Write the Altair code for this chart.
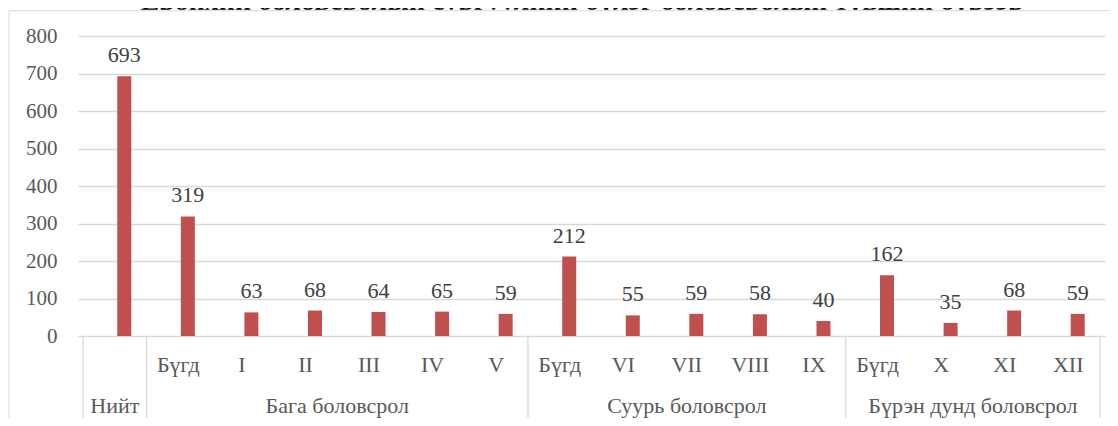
import altair as alt
import pandas as pd

title_text = "Ерөнхий боловсролын сургуулийн бүлэг боловсролын түвшин бүрээр"
sub_labels = ["", "Бүгд", "I", "II", "III", "IV", "V",
              "Бүгд", "VI", "VII", "VIII", "IX",
              "Бүгд", "X", "XI", "XII"]
values = [693, 319, 63, 68, 64, 65, 59, 212, 55, 59, 58, 40, 162, 35, 68, 59]
group_names = ["Нийт", "Бага боловсрол", "Суурь боловсрол", "Бүрэн дунд боловсрол"]
group_sizes = [1, 6, 5, 4]
y_ticks = [0, 100, 200, 300, 400, 500, 600, 700, 800]

n = len(values)
bars = pd.DataFrame({
    "pos": [i + 0.5 for i in range(n)],
    "value": values,
    "sub": sub_labels,
})

starts = []
s = 0
for g in group_sizes:
    starts.append(s)
    s += g
groups = pd.DataFrame({
    "name": group_names,
    "center": [st + g / 2 for st, g in zip(starts, group_sizes)],
})
seps = pd.DataFrame({"b": starts + [n]})

FONT = "Liberation Serif"
W, H = 1027, 300
xscale = alt.Scale(domain=[0, n], nice=False, zero=False)
yscale = alt.Scale(domain=[0, 800], nice=False)
yaxis = alt.Axis(values=y_ticks, tickCount=9, title=None, ticks=False, domain=False,
                 grid=True, gridColor="#d9d9d9", gridWidth=1.3,
                 labelOverlap=False,
                 labelFont=FONT, labelFontSize=21, labelColor="#595959",
                 labelPadding=21)
one = pd.DataFrame({"a": [0]})

ttl = alt.Chart(pd.DataFrame({"t": [title_text]})).mark_text(
    font=FONT, fontSize=28, fontWeight="bold", color="#000000",
    baseline="alphabetic"
).encode(
    x=alt.value(504), y=alt.value(-26.5), text="t:N"
)

cover = alt.Chart(one).mark_rect(fill="white", stroke=None).encode(
    x=alt.value(-80), x2=alt.value(1060), y=alt.value(-26.2), y2=alt.value(-9)
)

border = alt.Chart(one).mark_rect(
    filled=False, stroke="#d9d9d9", strokeWidth=1
).encode(
    x=alt.value(-69), x2=alt.value(1045), y=alt.value(-25.3), y2=alt.value(389)
)

bar = alt.Chart(bars).mark_bar(color="#C0504D", size=14, xOffset=9.5).encode(
    x=alt.X("pos:Q", scale=xscale, axis=None),
    y=alt.Y("value:Q", scale=yscale, axis=yaxis),
)

lbl = alt.Chart(bars).mark_text(
    font=FONT, fontSize=22, color="#404040", baseline="alphabetic",
    dy=-14, xOffset=9.5
).encode(
    x=alt.X("pos:Q", scale=xscale, axis=None),
    y=alt.Y("value:Q", scale=yscale, axis=yaxis),
    text=alt.Text("value:Q"),
)

sub = alt.Chart(bars).mark_text(
    font=FONT, fontSize=22, color="#595959", baseline="alphabetic"
).encode(
    x=alt.X("pos:Q", scale=xscale, axis=None),
    y=alt.value(336),
    text="sub:N",
)

grp = alt.Chart(groups).mark_text(
    font=FONT, fontSize=22, color="#595959", baseline="alphabetic"
).encode(
    x=alt.X("center:Q", scale=xscale, axis=None),
    y=alt.value(377),
    text="name:N",
)

sep = alt.Chart(seps).mark_rule(color="#d9d9d9", strokeWidth=1.3).encode(
    x=alt.X("b:Q", scale=xscale, axis=None),
    y=alt.value(300), y2=alt.value(382),
)

chart = alt.layer(ttl, cover, border, bar, lbl, sub, grp, sep).properties(
    width=W, height=H,
    autosize=alt.AutoSizeParams(type="none"),
    padding={"left": 70, "top": 28, "right": 5, "bottom": 82},
).configure_view(stroke=None)

chart.save("out.html", embed_options={"renderer": "svg", "actions": False})
